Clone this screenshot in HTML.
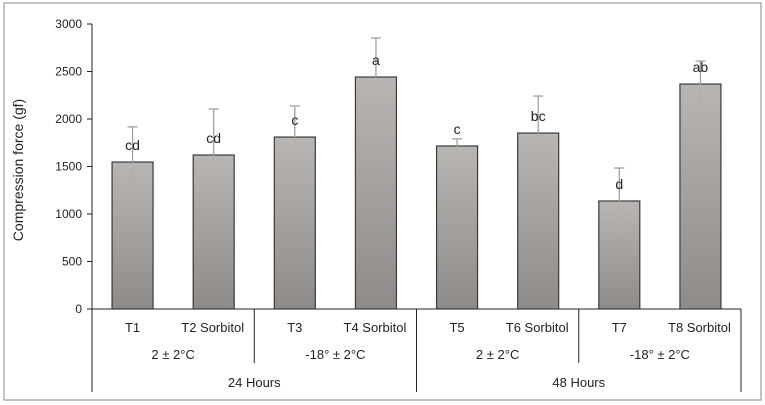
<!DOCTYPE html>
<html><head><meta charset="utf-8"><style>
body{margin:0;background:#fff}
svg{display:block;font-family:"Liberation Sans",Arial,sans-serif}
</style></head><body>
<svg id="chart" width="765" height="405">
<defs><linearGradient id="bg" x1="0" y1="0" x2="0" y2="1"><stop offset="0" stop-color="#b8b5b3"/><stop offset="1" stop-color="#8e8b89"/></linearGradient></defs>
<rect x="4" y="3" width="757" height="397" fill="#fff" stroke="#999" stroke-width="1.2"/>
<text transform="translate(23,170) rotate(-90)" text-anchor="middle" font-size="14" fill="#222">Compression force  (gf)</text>
<g id="g"></g>
</svg>
<script>
const categories=["T1","T2 Sorbitol","T3","T4 Sorbitol","T5","T6 Sorbitol","T7","T8 Sorbitol"];
const means=[1547,1621,1810,2442,1716,1852,1137,2368];
const errors=[370,484,327,411,75,390,347,242];
const letters=["cd","cd","c","a","c","bc","d","ab"];
const yTicks=[0,500,1000,1500,2000,2500,3000];
const tempGroups=["2 ± 2°C","-18° ± 2°C","2 ± 2°C","-18° ± 2°C"];
const hourGroups=["24 Hours","48 Hours"];
const NS="http://www.w3.org/2000/svg",g=document.getElementById("g");
const x0=92,x1=741,yb=309,yt=24,ymax=3000;
const bw=(x1-x0)/categories.length;
const y=v=>yb-(v/ymax)*(yb-yt);
const xc=i=>x0+bw*(i+0.5);
function mk(t,a,txt){const e=document.createElementNS(NS,t);for(const k in a)e.setAttribute(k,a[k]);if(txt!=null)e.textContent=txt;g.appendChild(e);return e;}
// axis
let e=mk("line",{x1:x0,y1:yt,x2:x0,y2:392,stroke:"#222","stroke-width":1});


e=mk("line",{x1:x0-5,y1:yb,x2:x1,y2:yb,stroke:"#222","stroke-width":1});


yTicks.forEach(t=>{
 let l=mk("line",{x1:x0-5,y1:y(t),x2:x0,y2:y(t),stroke:"#222"});
 
 
 let tx=mk("text",{x:x0-10,y:y(t)+4,"text-anchor":"end","font-size":12,fill:"#222"},t);
 
 
});
categories.forEach((c,i)=>{
 const bx=xc(i)-20.5;
 let r=mk("rect",{x:bx,y:y(means[i]),width:41,height:yb-y(means[i]),fill:"url(#bg)",stroke:"#3a3a3a","stroke-width":1.2});
 
 
 let lo=mk("line",{x1:xc(i),y1:y(means[i]),x2:xc(i),y2:y(means[i]-errors[i]),stroke:"#b0adab","stroke-width":1});
 
 
 let up=mk("line",{x1:xc(i),y1:y(means[i]),x2:xc(i),y2:y(means[i]+errors[i]),stroke:"#999","stroke-width":1.2});
 
 
 let cap=mk("line",{x1:xc(i)-5,y1:y(means[i]+errors[i]),x2:xc(i)+5,y2:y(means[i]+errors[i]),stroke:"#999","stroke-width":1.2});
 
 
 let lt=mk("text",{x:xc(i),y:y(means[i])-12,"text-anchor":"middle","font-size":14,fill:"#222"},letters[i]);
 
 
 let cl=mk("text",{x:xc(i)+(c.length>2?-1:0),y:332,"text-anchor":"middle","font-size":13,fill:"#222"},c);
 
 
});
tempGroups.forEach((t,k)=>{
 let tx=mk("text",{x:x0+bw*(2*k+1),y:359,"text-anchor":"middle","font-size":13,fill:"#222"},t);
 
 
});
[2,6].forEach(k=>{
 let l=mk("line",{x1:x0+bw*k,y1:yb,x2:x0+bw*k,y2:363,stroke:"#222"});
 
 
});
[4,8].forEach(k=>{
 let l=mk("line",{x1:x0+bw*k,y1:yb,x2:x0+bw*k,y2:392,stroke:"#222"});
 
 
});
hourGroups.forEach((h,k)=>{
 let tx=mk("text",{x:x0+bw*(4*k+2),y:387,"text-anchor":"middle","font-size":13,fill:"#222"},h);
 
 
});
</script>
</body></html>
